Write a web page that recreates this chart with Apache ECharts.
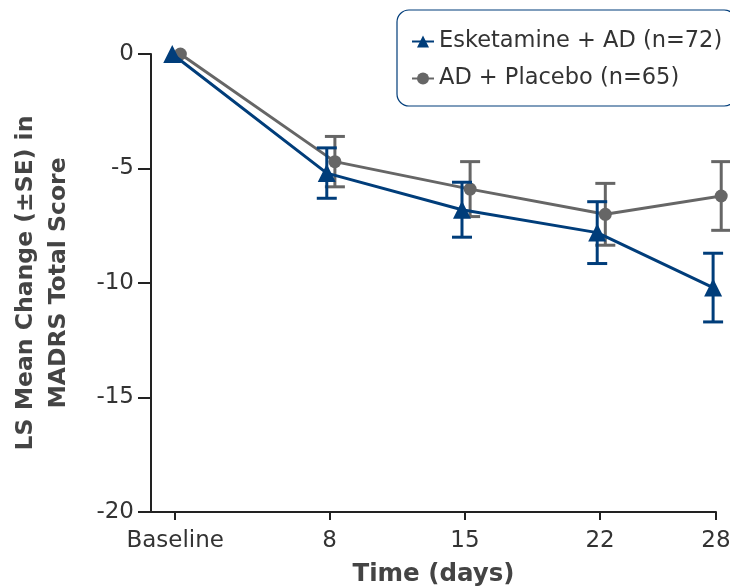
<!DOCTYPE html>
<html>
<head>
<meta charset="utf-8">
<script src="https://cdn.jsdelivr.net/npm/echarts@6/dist/echarts.min.js"></script>
<style>
  html, body { margin: 0; padding: 0; background: #fff; }
  #chart { width: 730px; height: 588px; }
</style>
</head>
<body>
<div id="chart"></div>
<script>
// time points (days), 0 = Baseline
const days = [0, 8, 15, 22, 28];
const tickLabels = ['Baseline', '8', '15', '22', '28'];

// LS mean change and SE
const eskMean = [0, -5.2, -6.8, -7.8, -10.2];
const eskSE = [0, 1.1, 1.2, 1.35, 1.5];
const plaMean = [0, -4.7, -5.9, -7.0, -6.2];
const plaSE = [0, 1.1, 1.2, 1.35, 1.5];

const BLUE = '#003d7a';
const GRAY = '#666666';
const FONT = 'DejaVu Sans';

// small horizontal dodge so the two groups don't sit on top of each other
const eskDodge = -0.15, plaDodge = 0.27;

function pts(mean, dodge) {
  return days.map((d, i) => [d + dodge, mean[i]]);
}
function bars(mean, se, dodge) {
  return days.map((d, i) => [d + dodge, mean[i] - se[i], mean[i] + se[i]]).filter((r, i) => se[i] > 0);
}

function errorBar(color) {
  return function (params, api) {
    const x = api.value(0);
    const lo = api.coord([x, api.value(1)]);
    const hi = api.coord([x, api.value(2)]);
    const w = 10;
    const style = { stroke: color, lineWidth: 3 };
    return {
      type: 'group',
      children: [
        { type: 'line', shape: { x1: lo[0], y1: lo[1], x2: hi[0], y2: hi[1] }, style: style },
        { type: 'line', shape: { x1: lo[0] - w, y1: lo[1], x2: lo[0] + w, y2: lo[1] }, style: style },
        { type: 'line', shape: { x1: hi[0] - w, y1: hi[1], x2: hi[0] + w, y2: hi[1] }, style: style }
      ]
    };
  };
}

const chart = echarts.init(document.getElementById('chart'));
chart.setOption({
  animation: false,
  textStyle: { fontFamily: FONT },
  grid: { left: 151, right: 14, top: 54, bottom: 76, outerBoundsMode: 'none' },
  legend: {
    orient: 'vertical',
    left: 397,
    top: 10,
    padding: [20, 14, 16, 14],
    itemGap: 14,
    itemWidth: 22,
    itemHeight: 15,
    borderColor: BLUE,
    borderWidth: 1.2,
    borderRadius: 12,
    textStyle: { fontFamily: FONT, fontSize: 22.5, color: '#333' },
    data: ['Esketamine + AD (n=72)', 'AD + Placebo (n=65)']
  },
  xAxis: {
    type: 'value',
    min: -1.25,
    max: 28,
    name: 'Time (days)',
    nameLocation: 'middle',
    nameGap: 50,
    nameTextStyle: { fontFamily: FONT, fontSize: 24.5, fontWeight: 'bold', color: '#444' },
    axisLine: { onZero: false, lineStyle: { color: '#222', width: 2 } },
    axisTick: { customValues: days, length: 8, lineStyle: { color: '#222', width: 2 } },
    axisLabel: {
      customValues: days,
      fontSize: 23,
      color: '#333',
      margin: 18,
      formatter: function (v) { return tickLabels[days.indexOf(v)]; }
    },
    splitLine: { show: false }
  },
  yAxis: {
    type: 'value',
    min: -20,
    max: 0,
    interval: 5,
    name: 'LS Mean Change (±SE) in\nMADRS Total Score',
    nameLocation: 'middle',
    nameGap: 76,
    nameTextStyle: { fontFamily: FONT, fontSize: 23.5, fontWeight: 'bold', color: '#444', lineHeight: 33 },
    axisLine: { show: true, onZero: false, lineStyle: { color: '#222', width: 2 } },
    axisTick: { show: true, length: 13, lineStyle: { color: '#222', width: 2 } },
    axisLabel: { fontSize: 23, color: '#333', margin: 17 },
    splitLine: { show: false }
  },
  series: [
    {
      name: 'AD + Placebo (n=65)',
      type: 'line',
      data: pts(plaMean, plaDodge),
      clip: false,
      symbol: 'circle',
      symbolSize: 13,
      color: GRAY,
      lineStyle: { color: GRAY, width: 3 },
      itemStyle: { color: GRAY },
      z: 2
    },
    {
      name: 'placeboErr',
      type: 'custom',
      data: bars(plaMean, plaSE, plaDodge),
      renderItem: errorBar(GRAY),
      encode: { x: 0, y: [1, 2] },
      z: 2
    },
    {
      name: 'Esketamine + AD (n=72)',
      type: 'line',
      data: pts(eskMean, eskDodge),
      clip: false,
      symbol: 'triangle',
      symbolSize: 18,
      color: BLUE,
      lineStyle: { color: BLUE, width: 3 },
      itemStyle: { color: BLUE },
      z: 3
    },
    {
      name: 'eskErr',
      type: 'custom',
      data: bars(eskMean, eskSE, eskDodge),
      renderItem: errorBar(BLUE),
      encode: { x: 0, y: [1, 2] },
      z: 3
    }
  ]
});
</script>
</body>
</html>
